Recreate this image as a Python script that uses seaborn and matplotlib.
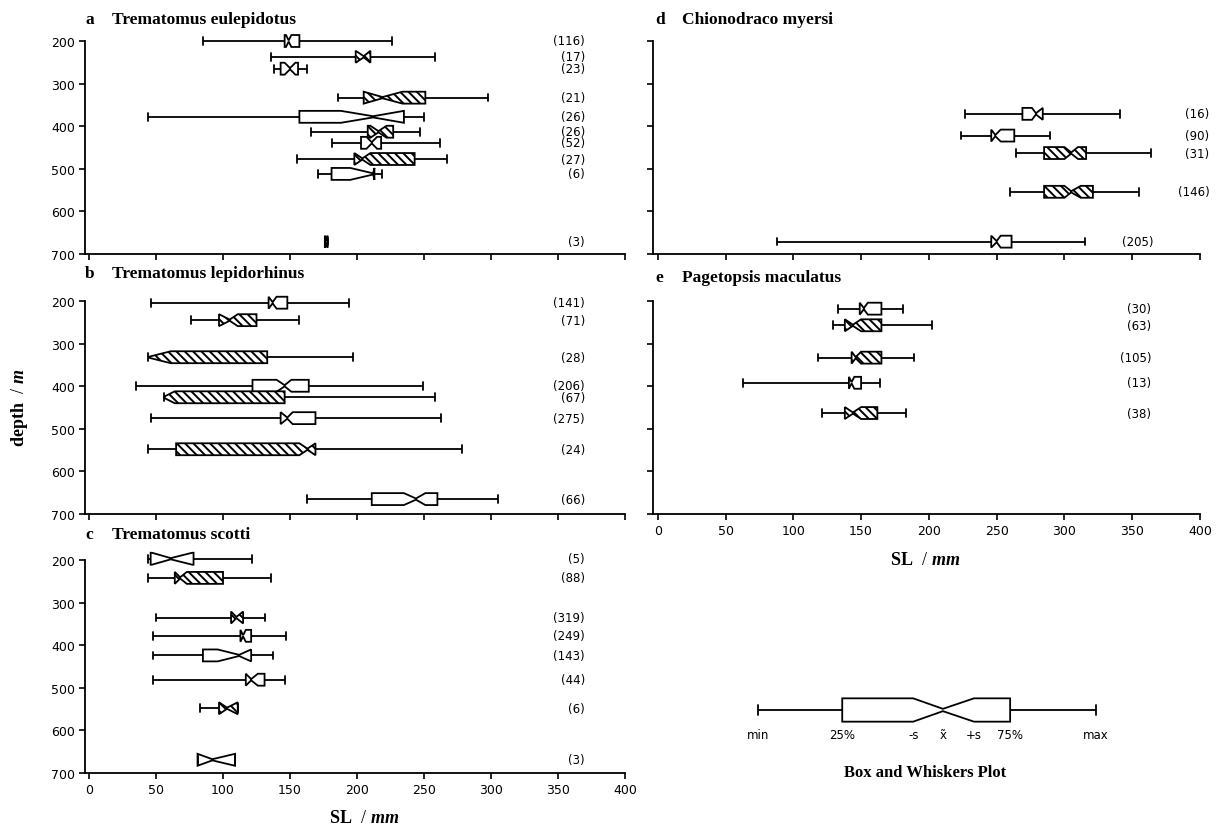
import numpy as np
import pandas as pd
import seaborn as sns
import matplotlib.pyplot as plt
from matplotlib.path import Path

# Values: SL in mm, depth in m.
# Each box: min, 25%, -s, median, +s, 75%, max, sample size, hatched or not

# a  Trematomus eulepidotus
depth_a = [200, 237, 265, 333, 378, 413, 439, 477, 512, 671]
min_a = [85, 136, 138, 186, 44, 166, 181, 155, 171, 176]
q1_a = [146, 199, 143, 205, 157, 208, 203, 198, 181, 176]
slo_a = [147, 199, 146, 205, 188, 210, 207, 198, 195, 176]
med_a = [149, 205, 150, 219, 212, 216, 211, 204, 212, 177]
shi_a = [151, 210, 154, 234, 235, 222, 215, 210, 213, 178]
q3_a = [157, 210, 156, 251, 235, 227, 218, 243, 213, 178]
max_a = [226, 258, 163, 298, 250, 247, 262, 267, 219, 178]
n_a = [116, 17, 23, 21, 26, 26, 52, 27, 6, 3]
hatch_a = [0, 1, 0, 1, 0, 1, 0, 1, 0, 0]

# b  Trematomus lepidorhinus
depth_b = [204, 245, 332, 399, 426, 475, 548, 665]
min_b = [46, 76, 44, 35, 56, 46, 44, 163]
q1_b = [134, 97, 45, 122, 56, 143, 65, 211]
slo_b = [134, 97, 45, 140, 56, 143, 157, 235]
med_b = [137, 105, 45, 146, 56, 148, 163, 244]
shi_b = [140, 111, 61, 151, 64, 152, 169, 251]
q3_b = [148, 125, 133, 164, 146, 169, 169, 260]
max_b = [194, 157, 197, 249, 258, 263, 278, 305]
n_b = [141, 71, 28, 206, 67, 275, 24, 66]
hatch_b = [0, 1, 1, 0, 1, 0, 1, 0]

# c  Trematomus scotti
depth_c = [197, 242, 335, 378, 424, 481, 548, 669]
min_c = [44, 44, 50, 48, 48, 48, 83, 81]
q1_c = [46, 64, 106, 113, 85, 117, 97, 81]
slo_c = [47, 64, 106, 113, 96, 117, 97, 81]
med_c = [61, 68, 110, 115, 112, 121, 103, 92]
shi_c = [77, 73, 115, 117, 121, 126, 111, 109]
q3_c = [78, 100, 115, 121, 121, 131, 111, 109]
max_c = [122, 136, 131, 147, 137, 146, 111, 109]
n_c = [5, 88, 319, 249, 143, 44, 6, 3]
hatch_c = [0, 1, 1, 0, 0, 0, 1, 0]

# d  Chionodraco myersi
depth_d = [371, 422, 463, 554, 671]
min_d = [227, 224, 264, 260, 88]
q1_d = [269, 246, 285, 285, 246]
slo_d = [276, 246, 300, 300, 246]
med_d = [279, 249, 305, 305, 250]
shi_d = [284, 253, 310, 312, 253]
q3_d = [284, 263, 316, 321, 261]
max_d = [341, 289, 364, 355, 315]
n_d = [16, 90, 31, 146, 205]
hatch_d = [0, 0, 1, 1, 0]

# e  Pagetopsis maculatus
depth_e = [218, 257, 333, 392, 463]
min_e = [133, 129, 118, 63, 121]
q1_e = [149, 138, 143, 141, 138]
slo_e = [149, 138, 143, 141, 138]
med_e = [152, 144, 146, 143, 144]
shi_e = [155, 150, 150, 145, 150]
q3_e = [165, 165, 165, 150, 162]
max_e = [181, 202, 189, 164, 183]
n_e = [30, 63, 105, 13, 38]
hatch_e = [0, 1, 1, 0, 1]

# schematic box for the key
leg_stats = [0, 24.9, 45.9, 54.7, 63.9, 74.6, 100]   # min, 25%, -s, med, +s, 75%, max
leg_labels = ["min", "25%", "-s", "x\u0303", "+s", "75%", "max"]

# where the (n) labels end, in SL units
lab_a = [370] * 10
lab_b = [370] * 8
lab_c = [370] * 8
lab_d = [407, 407, 407, 407, 366]
lab_e = [364] * 5

W, H = 1218, 829
BOX_H = 28     # box height in m
CAP_H = 18     # cap height in m
NECK = 0.1     # notch neck, fraction of box height
HATCH = "\\\\\\\\"

sns.set_style("ticks")
plt.rcParams["font.family"] = ["DejaVu Sans"]
plt.rcParams.update({
    "axes.linewidth": 1.3,
    "hatch.linewidth": 1.4,
    "text.color": "black",
    "axes.labelcolor": "black",
    "xtick.color": "black", "ytick.color": "black",
    "axes.edgecolor": "black",
    "xtick.major.width": 1.2, "ytick.major.width": 1.2,
    "xtick.major.size": 4, "ytick.major.size": 4,
    "xtick.labelsize": 9, "ytick.labelsize": 9,
    "mathtext.fontset": "custom",
    "mathtext.rm": "Liberation Serif",
    "mathtext.bf": "Liberation Serif:bold",
    "mathtext.it": "Liberation Serif:italic:bold",
})
serif_bold = dict(family="Liberation Serif", fontweight="bold", color="black")

fig = plt.figure(figsize=(W / 100, H / 100), dpi=100)


def px_axes(l, t, r, b):
    return fig.add_axes([l / W, 1 - b / H, (r - l) / W, (b - t) / H])


def notch_path(q1, slo, med, shi, q3, pos, h, neck):
    def side(edge, mid):
        pts = []
        if q1 < slo:
            pts.append((q1, edge))
        if slo < med:
            pts.append((slo, edge))
        pts.append((med, mid))
        if shi > med:
            pts.append((shi, edge))
        if q3 > shi:
            pts.append((q3, edge))
        return pts
    lower = side(pos - h / 2, pos - neck / 2)
    upper = side(pos + h / 2, pos + neck / 2)[::-1]
    verts = lower + upper + [lower[0]]
    codes = [Path.MOVETO] + [Path.LINETO] * (len(verts) - 2) + [Path.CLOSEPOLY]
    return Path(verts, codes)


def reshape_boxes(ax, q1, slo, med, shi, q3, pos, hatch, h):
    for patch, a, b, c, d, e, p, hh in zip(ax.patches, q1, slo, med, shi, q3, pos, hatch):
        path = notch_path(a, b, c, d, e, p, h, NECK * h)
        try:
            patch.set_path(path)
        except AttributeError:
            patch._path = path
        if hh:
            patch.set_hatch(HATCH)
    for art in ax.patches + ax.lines:
        art.set_clip_on(False)


def draw_panel(ax, depth, vmin, q1, slo, med, shi, q3, vmax, n, hatch, lab_x,
               xlim, xlabels, ylabels):
    rows = []
    for d, a, b, c, e, f in zip(depth, vmin, q1, med, q3, vmax):
        for v in (a, b, c, e, f):
            rows.append((d, v))
    df = pd.DataFrame(rows, columns=["depth", "SL"])
    native = np.diff(np.unique(depth)).min()
    sns.boxplot(data=df, x="SL", y="depth", orient="y", native_scale=True,
                whis=(0, 100), width=2 * CAP_H / native, color="white",
                linecolor="black", linewidth=1.3, fliersize=0,
                medianprops={"visible": False}, ax=ax)
    reshape_boxes(ax, q1, slo, med, shi, q3, depth, hatch, BOX_H)
    for d, k, lx in zip(depth, n, lab_x):
        ax.text(lx, d, f"({k})", ha="right", va="center", fontsize=8.5, clip_on=False)
    ax.set_xlim(*xlim)
    ax.set_ylim(700, 200)
    ax.set_xticks(range(0, 401, 50))
    ax.set_yticks(range(200, 701, 100))
    ax.set_xlabel("")
    ax.set_ylabel("")
    if not xlabels:
        ax.set_xticklabels([])
    if not ylabels:
        ax.set_yticklabels([])
    ax.tick_params(colors="black", pad=3)
    sns.despine(ax=ax)


ax_a = px_axes(85, 42, 625, 255)
ax_b = px_axes(85, 302, 625, 515)
ax_c = px_axes(85, 561, 625, 774)
ax_d = px_axes(653, 42, 1200, 255)
ax_e = px_axes(653, 302, 1200, 515)

left_lim = (-3, 400)
right_lim = (-3.5, 400)
draw_panel(ax_a, depth_a, min_a, q1_a, slo_a, med_a, shi_a, q3_a, max_a, n_a, hatch_a,
           lab_a, left_lim, False, True)
draw_panel(ax_b, depth_b, min_b, q1_b, slo_b, med_b, shi_b, q3_b, max_b, n_b, hatch_b,
           lab_b, left_lim, False, True)
draw_panel(ax_c, depth_c, min_c, q1_c, slo_c, med_c, shi_c, q3_c, max_c, n_c, hatch_c,
           lab_c, left_lim, True, True)
draw_panel(ax_d, depth_d, min_d, q1_d, slo_d, med_d, shi_d, q3_d, max_d, n_d, hatch_d,
           lab_d, right_lim, False, False)
draw_panel(ax_e, depth_e, min_e, q1_e, slo_e, med_e, shi_e, q3_e, max_e, n_e, hatch_e,
           lab_e, right_lim, True, False)

# panel titles
titles = [("a", "Trematomus eulepidotus", 85, 20), ("b", "Trematomus lepidorhinus", 85, 274),
          ("c", "Trematomus scotti", 85, 535), ("d", "Chionodraco myersi", 655, 20),
          ("e", "Pagetopsis maculatus", 655, 278)]
for letter, name, x, y in titles:
    fig.text(x / W, 1 - y / H, letter, fontsize=12.5, va="center", **serif_bold)
    fig.text((x + 27) / W, 1 - y / H, name, fontsize=12.5, va="center", **serif_bold)

# axis labels
fig.text(364 / W, 1 - 818 / H, r"$\mathbf{SL}\ \ \mathit{/\ mm}$", fontsize=13,
         ha="center", va="center")
fig.text(925 / W, 1 - 560 / H, r"$\mathbf{SL}\ \ \mathit{/\ mm}$", fontsize=13,
         ha="center", va="center")
fig.text(20 / W, 1 - 408 / H, r"$\mathbf{depth}\ \ \mathit{/\ m}$", fontsize=13,
         ha="center", va="center", rotation=90)

# key: box and whiskers plot
ax_k = px_axes(700, 676, 1150, 746)
sns.boxplot(x=[leg_stats[0], leg_stats[1], leg_stats[3], leg_stats[5], leg_stats[6]],
            orient="y", whis=(0, 100), width=0.9, color="white", linecolor="black",
            linewidth=1.3, fliersize=0, medianprops={"visible": False}, ax=ax_k)
reshape_boxes(ax_k, [leg_stats[1]], [leg_stats[2]], [leg_stats[3]], [leg_stats[4]],
              [leg_stats[5]], [0], [0], 1.0)
ax_k.set_xlim(-17.2, 116)
ax_k.set_ylim(1.5, -1.5)
for v, t in zip(leg_stats, leg_labels):
    ax_k.text(v, 1.05, t, ha="center", va="center", fontsize=8.5)
ax_k.axis("off")
fig.text(925 / W, 1 - 773 / H, "Box and Whiskers Plot", fontsize=12, ha="center",
         va="center", **serif_bold)

fig.savefig("out.png", dpi=100, facecolor="white")
